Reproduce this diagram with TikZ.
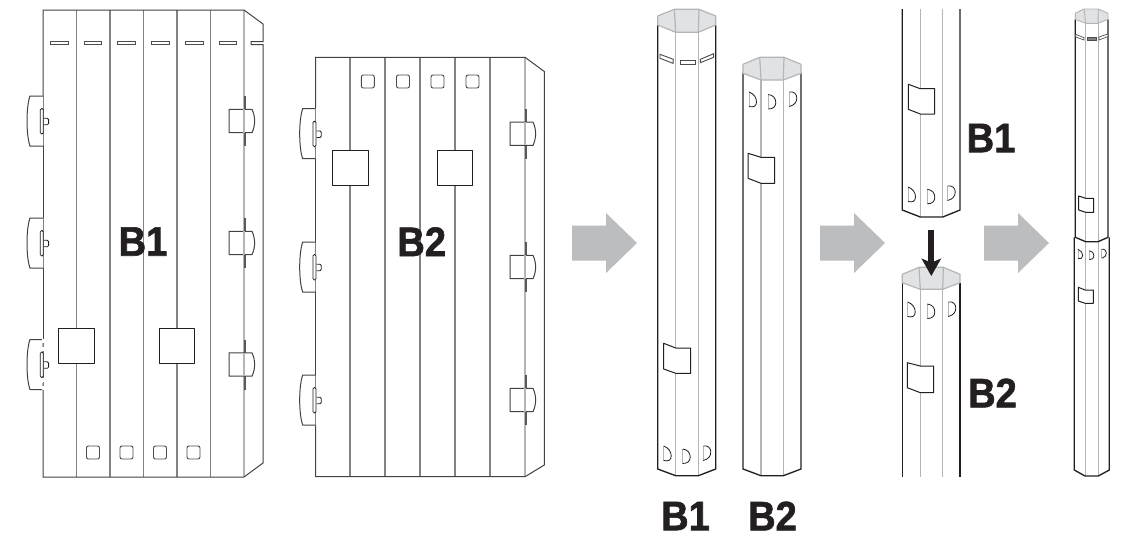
\documentclass[tikz,border=0pt]{standalone}
\usepackage{xcolor}
\usepackage{fontspec}
\setmainfont[BoldFeatures={FakeBold=1.4,FakeStretch=0.92}]{Liberation Sans}
\usetikzlibrary{arrows.meta}
\definecolor{ink}{HTML}{231F20}
\definecolor{creaseD}{HTML}{808285}
\definecolor{creaseL}{HTML}{B3B5B7}
\definecolor{capgrey}{HTML}{E1E2E3}
\definecolor{blockgrey}{HTML}{BBBDBF}
\definecolor{slitgrey}{HTML}{58595B}
\tikzset{
  outline/.style={line width=0.75pt, draw=ink!85!white},
  tubeline/.style={line width=1pt, draw=ink},
  fold/.style={line width=0.8pt, draw=creaseD},
  foldL/.style={line width=0.9pt, draw=creaseL},
  hole/.style={line width=0.7pt, draw=ink!80!white, fill=white},
  flap/.style={line width=0.75pt, draw=ink, fill=white, line join=round},
  capface/.style={line width=0.9pt, draw=creaseL, fill=capgrey, line join=round},
  lab/.style={text=ink, font=\fontsize{31}{31}\selectfont\bfseries, inner sep=0pt},
  drop/.style={line width=4.6pt, draw=ink, -{Stealth[length=13pt,width=14.5pt,inset=3pt]}},
  pics/lefttab/.style={code={
    \draw[outline, draw=creaseD] (0,-25) -- (0,25);
    \draw[outline] (0,-25) -- (-13,-25) .. controls (-17,-14) and (-17,14) .. (-13,25) -- (0,25);
    \draw[line width=0.6pt, draw=ink, rounded corners=1pt] (1,3.8) -- (5.6,3.8) -- (5.6,-2.8) -- (1,-2.8);
    \draw[line width=0.6pt, draw=ink, rounded corners=1pt, fill=white] (-2.7,-12.5) rectangle (0.3,13);
  }},
  pics/righttab/.style={code={
    \draw[line width=1.5pt, draw=slitgrey] (1.2,-25) -- (1.2,25);
    \draw[outline, fill=white] (8,-11.7) -- (-15,-11.7) -- (-15,11.7) -- (8,11.7) .. controls (11.5,4) and (11.5,-4) .. (8,-11.7);
    \draw[foldL] (0,-11.7) -- (0,11.7);
  }},
  pics/dee/.style={code={
    \draw[line width=0.5pt, draw=creaseL] (0,0) -- (0,14.5);
    \draw[line width=0.6pt, draw=ink] (0,0) .. controls (5,0.5) and (7.5,4) .. (7.5,8) .. controls (7.5,12) and (5,14.5) .. (0,14.5);
  }},
  pics/blockarrow/.style={code={
    \fill[blockgrey] (0,-17.5) -- (34,-17.5) -- (34,-30) -- (65,0) -- (34,30) -- (34,17.5) -- (0,17.5) -- cycle;
  }}
}
\begin{document}
\begin{tikzpicture}[x=0.75pt,y=-0.75pt]
  \useasboundingbox[fill=white] (0,0) rectangle (1123,537);
  % sheet B1
  \draw[fold] (76.5,10) -- (76.5,477);
  \draw[fold] (110,10) -- (110,477);
  \draw[fold] (143.5,10) -- (143.5,477);
  \draw[fold] (177,10) -- (177,477);
  \draw[fold] (210.5,10) -- (210.5,477);
  \draw[foldL] (244,10) -- (244,477);
  \draw[outline] (43,96) -- (43,10) -- (244,10) -- (263,24) -- (263,41.5) -- (251,41.5) -- (251,44.5) -- (263,44.5) -- (263,463) -- (244,477) -- (43,477) -- (43,390);
  \draw[outline] (43,146) -- (43,218);
  \draw[outline] (43,268) -- (43,339);
  \draw[hole] (50.5,41) rectangle (68,44);
  \draw[hole] (84,41) rectangle (101.7,44);
  \draw[hole] (117.7,41) rectangle (135.5,44);
  \draw[hole] (151.3,41) rectangle (169,44);
  \draw[hole] (185.3,41) rectangle (203,44);
  \draw[hole] (219,41) rectangle (236.7,44);
  \pic at (43,121) {lefttab};
  \pic at (43,243) {lefttab};
  \draw[foldL] (43,339) -- (43,390);
  \draw[white, line width=0.9pt, dashed] (43,339) -- (43,390);
  \pic at (43,364.5) {lefttab};
  \draw[white, line width=0.9pt, dashed] (43,339) -- (43,351);
  \draw[white, line width=0.9pt, dashed] (43,378) -- (43,390);
  \pic at (244,121) {righttab};
  \pic at (244,243) {righttab};
  \pic at (244,364.5) {righttab};
  \draw[flap] (58.5,328.5) rectangle (94,363.7);
  \draw[flap] (159.3,328.5) rectangle (194.7,363.7);
  \draw[hole, rounded corners=1.5pt] (86.5,446) rectangle (99.5,459);
  \draw[hole, rounded corners=1.5pt] (120,446) rectangle (133,459);
  \draw[hole, rounded corners=1.5pt] (153.5,446) rectangle (166.5,459);
  \draw[hole, rounded corners=1.5pt] (187,446) rectangle (200,459);
  \node[lab] (sheetA) at (143,241.5) {B1};
  % sheet B2
  \draw[fold] (350,57.3) -- (350,476.7);
  \draw[fold] (385,57.3) -- (385,476.7);
  \draw[fold] (420,57.3) -- (420,476.7);
  \draw[fold] (455,57.3) -- (455,476.7);
  \draw[fold] (490,57.3) -- (490,476.7);
  \draw[foldL] (525,57.3) -- (525,476.7);
  \draw[outline] (315.7,108.3) -- (315.7,57.3) -- (525,57.3) -- (544.3,71.5) -- (544.3,465) -- (525,476.7) -- (315.7,476.7) -- (315.7,425.3);
  \draw[outline] (315.7,159) -- (315.7,241.7);
  \draw[outline] (315.7,292) -- (315.7,375);
  \pic at (315.7,133.7) {lefttab};
  \pic at (315.7,267) {lefttab};
  \pic at (315.7,400) {lefttab};
  \pic at (525,133.7) {righttab};
  \pic at (525,267) {righttab};
  \pic at (525,400) {righttab};
  \draw[flap] (332.3,150.3) rectangle (368,185.7);
  \draw[flap] (437.3,150.3) rectangle (472.7,185.7);
  \draw[hole, rounded corners=1.5pt] (361.3,75) rectangle (374.3,88);
  \draw[hole, rounded corners=1.5pt] (396.5,75) rectangle (409.5,88);
  \draw[hole, rounded corners=1.5pt] (431,75) rectangle (444,88);
  \draw[hole, rounded corners=1.5pt] (466,75) rectangle (479,88);
  \node[lab] (sheetB) at (421.7,241.7) {B2};
  % grey arrows
  \pic at (572,243) {blockarrow};
  \pic at (820,243) {blockarrow};
  \pic at (984,243) {blockarrow};
  % tube B1
  \draw[foldL] (675.7,32.3) -- (675.7,475.7);
  \draw[foldL] (698.3,32.3) -- (698.3,475.7);
  \draw[tubeline] (657.7,25) -- (657.7,469) -- (675.7,475.7) -- (698.3,475.7) -- (715.7,469) -- (715.7,25);
  \draw[capface] (657.7,16) -- (674.3,9.3) -- (699,9.3) -- (715.7,16) -- (715.7,25) -- (698.3,32.3) -- (675.7,32.3) -- (657.7,25) -- cycle;
  \draw[capface] (674.3,9.3) -- (675.7,32.3);
  \draw[capface] (699,9.3) -- (698.3,32.3);
  \draw[hole] (660,54.3) -- (673.3,59.3) -- (673,63.3) -- (660,58.3) -- cycle;
  \draw[hole] (680,60) rectangle (695.3,64.3);
  \draw[hole] (700.3,59.3) -- (713.7,53.7) -- (713.7,57.3) -- (700.3,62.7) -- cycle;
  \draw[flap] (663.7,343.3) -- (675.7,348) -- (690.7,348) -- (690.7,373.3) -- (675.7,373.3) -- (663.7,369) -- cycle;
  \pic[yslant=-0.25] at (663.7,446) {dee};
  \pic at (682.7,449) {dee};
  \pic[yslant=0.25] at (703.3,446) {dee};
  \node[lab] (tubeA) at (685.5,516) {B1};
  % tube B2
  \draw[foldL] (761,80) -- (761,475.7);
  \draw[foldL] (783.3,80) -- (783.3,475.7);
  \draw[tubeline] (743,73.3) -- (743,469) -- (761,475.7) -- (783.3,475.7) -- (801,469) -- (801,73.3);
  \draw[capface] (743,64.3) -- (759.7,57.3) -- (784,57.3) -- (801,64.3) -- (801,73.3) -- (783.3,80) -- (761,80) -- (743,73.3) -- cycle;
  \draw[capface] (759.7,57.3) -- (761,80);
  \draw[capface] (784,57.3) -- (783.3,80);
  \pic[yslant=-0.25] at (749,92) {dee};
  \pic at (768.3,94.5) {dee};
  \pic[yslant=0.25] at (789.3,92) {dee};
  \draw[flap] (748,153.3) -- (761,157.3) -- (774.7,157.3) -- (774.7,183.3) -- (761,183.3) -- (748,178.3) -- cycle;
  \node[lab] (tubeB) at (772.5,516) {B2};
  % upper part, joined from above
  \draw[foldL] (920.3,9) -- (920.3,217);
  \draw[foldL] (942.7,9) -- (942.7,217);
  \draw[tubeline] (902.3,9) -- (902.3,210) -- (920.3,217) -- (942.7,217) -- (960,210) -- (960,9);
  \draw[flap] (908.3,84.3) -- (920.3,88.7) -- (934.7,88.7) -- (934.7,114) -- (920.3,114) -- (908.3,109.3) -- cycle;
  \pic[yslant=-0.25] at (908,187) {dee};
  \pic at (927.3,189.3) {dee};
  \pic[yslant=0.25] at (947.7,186) {dee};
  \node[lab] (partA) at (991,138) {B1};
  % lower part
  \draw[foldL] (920.3,289.3) -- (920.3,476.7);
  \draw[foldL] (942.7,289.3) -- (942.7,476.7);
  \draw[tubeline] (902.3,282.7) -- (902.3,476.7);
  \draw[tubeline] (960,282.7) -- (960,476.7);
  \draw[capface] (902.3,274.3) -- (919,267.3) -- (943.3,267.3) -- (960,274.3) -- (960,282.7) -- (942.7,289.3) -- (920.3,289.3) -- (902.3,282.7) -- cycle;
  \draw[capface] (919,267.3) -- (920.3,289.3);
  \draw[capface] (943.3,267.3) -- (942.7,289.3);
  \pic[yslant=-0.25] at (907.7,302) {dee};
  \pic at (927.3,304) {dee};
  \pic[yslant=0.25] at (948.3,302) {dee};
  \draw[flap] (907.3,362.7) -- (920.3,366) -- (933.7,366) -- (933.7,392.7) -- (920.3,392.7) -- (907.3,387.7) -- cycle;
  \node[lab] (partB) at (992.5,393) {B2};
  \coordinate (dropA) at (931.3,230);
  \coordinate (dropB) at (931.3,276);
  \draw[drop] (dropA) -- (dropB);
  % finished tube
  \draw[foldL, line width=0.7pt] (1085,241) -- (1085,476);
  \draw[foldL, line width=0.7pt] (1098.3,241) -- (1098.3,476);
  \draw[tubeline] (1074.3,237.3) -- (1074.3,470) -- (1085,476) -- (1098.3,476) -- (1109.3,470) -- (1109.3,237.3);
  \draw[foldL, line width=0.7pt] (1085.7,23.3) -- (1085.7,241.7);
  \draw[foldL, line width=0.7pt] (1098,23.3) -- (1098,241.7);
  \draw[tubeline] (1075.3,19.3) -- (1075.3,237.3) -- (1085.7,241.7) -- (1098,241.7) -- (1108,237.3) -- (1108,19.3);
  \draw[capface, line width=0.7pt] (1075.3,13.3) -- (1084,9) -- (1098.3,9) -- (1108,13.3) -- (1108,19.3) -- (1098,23.3) -- (1085.7,23.3) -- (1075.3,19.3) -- cycle;
  \draw[capface, line width=0.7pt] (1084,9) -- (1085.7,23.3);
  \draw[capface, line width=0.7pt] (1098.3,9) -- (1098,23.3);
  \draw[hole, line width=0.5pt] (1075.7,34.3) -- (1084,37.7) -- (1084,40) -- (1075.7,37) -- cycle;
  \draw[hole, line width=0.5pt, fill=creaseD] (1087.3,37.3) rectangle (1096.7,40.7);
  \draw[hole, line width=0.5pt] (1099,37) -- (1108,34) -- (1108,36.5) -- (1099,40) -- cycle;
  \draw[flap] (1078.7,196) -- (1085.7,198.3) -- (1093.7,198.3) -- (1093.7,212.3) -- (1085.7,212.3) -- (1078.7,210) -- cycle;
  \pic[scale=0.62, yslant=-0.25] at (1078,249.3) {dee};
  \pic[scale=0.62] at (1089.3,250.7) {dee};
  \pic[scale=0.62, yslant=0.25] at (1101.7,249.3) {dee};
  \draw[flap] (1078.3,287.3) -- (1085,290) -- (1093.3,290) -- (1093.3,303.3) -- (1085,303.3) -- (1078.3,301) -- cycle;
\end{tikzpicture}
\end{document}
